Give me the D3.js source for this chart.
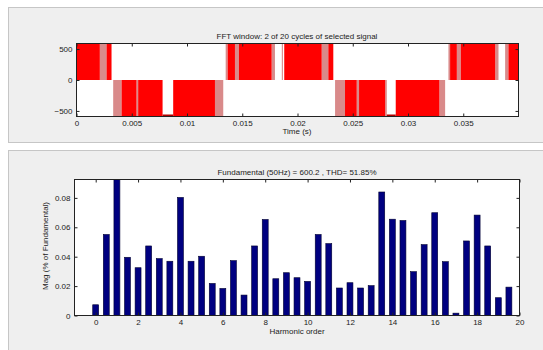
<!DOCTYPE html>
<html><head><meta charset="utf-8">
<script src="https://cdn.jsdelivr.net/npm/d3@7"></script>
<style>
body{margin:0;background:#fff;}
svg{display:block;font-family:"Liberation Sans",Arial,sans-serif;}
</style>
</head><body>
<svg id="fig" width="543" height="350"></svg>
<script>
// ---- Inverter output voltage, 2 cycles (time in s, level in V) ----
const dcLevel = 590;
// intervals with dense switching (drawn solid red)
const posDense = [[0,0.00211],[0.00272,0.00317],[0.01368,0.01434],[0.0147,0.01766],[0.0188,0.02219],[0.02279,0.02324],[0.03381,0.03442],[0.03478,0.03789],[0.03909,0.04]];
const negDense = [[0.00408,0.00543],[0.00558,0.00779],[0.00875,0.01253],[0.0243,0.02536],[0.02557,0.02793],[0.02889,0.03284]];
// intervals with sparse switching (drawn as lighter band)
const posSparse = [[0.00211,0.00272],[0.0135,0.01368],[0.01434,0.0147],[0.01766,0.01796],[0.01858,0.01868],[0.02219,0.02279],[0.03366,0.03381],[0.03442,0.03478],[0.03789,0.03819],[0.03879,0.03909]];
const negSparse = [[0.00332,0.00408],[0.00543,0.00558],[0.01253,0.01328],[0.0234,0.0243],[0.02536,0.02557],[0.02793,0.02808],[0.03284,0.03336]];
// intervals where the output is held at the negative rail
const negHold = [[0.00779,0.00875],[0.02808,0.02889]];
const timeTicks = [0,0.005,0.01,0.015,0.02,0.025,0.03,0.035];
const voltTicks = [-500,0,500];

// ---- Harmonic spectrum (orders 0..19.5 in steps of 0.5) ----
const harmonicOrder = d3.range(0, 20, 0.5);
const magnitude = [
  0.0073, 0.0551, 100, 0.0396, 0.0325, 0.0473, 0.0387, 0.0369,
  0.0803, 0.0369, 0.0403, 0.0218, 0.0184, 0.0373, 0.0139, 0.0473,
  0.0653, 0.0250, 0.0291, 0.0257, 0.0232, 0.0551, 0.0489, 0.0187,
  0.0223, 0.0187, 0.0203, 0.0840, 0.0655, 0.0646, 0.0298, 0.0482,
  0.0699, 0.0366, 0.0016, 0.0507, 0.0683, 0.0473, 0.0121, 0.0193
];
const orderTicks = [0,2,4,6,8,10,12,14,16,18,20];
const magTicks = [0,0.02,0.04,0.06,0.08];

const svg = d3.select("#fig");
const axisColor = "#222";

// figure panels
svg.append("rect").attr("x", 8.5).attr("y", 7.5).attr("width", 560).attr("height", 135)
  .attr("fill", "#efefef").attr("stroke", "#c6c6c6");
svg.append("rect").attr("x", 8.5).attr("y", 150.5).attr("width", 560).attr("height", 220)
  .attr("fill", "#efefef").attr("stroke", "#c6c6c6");

function boxAxes(g, x, y, xTicks, yTicks, xFmt, yFmt) {
  const [x0, x1] = x.range(), [y0, y1] = y.range();
  g.append("g").attr("transform", `translate(0,${y0})`)
    .call(d3.axisBottom(x).tickValues(xTicks).tickSize(-3).tickPadding(4).tickFormat(xFmt));
  g.append("g").attr("transform", `translate(0,${y1})`)
    .call(d3.axisTop(x).tickValues(xTicks).tickSize(-3).tickFormat(""));
  g.append("g").attr("transform", `translate(${x0},0)`)
    .call(d3.axisLeft(y).tickValues(yTicks).tickSize(-3).tickPadding(4).tickFormat(yFmt));
  g.append("g").attr("transform", `translate(${x1},0)`)
    .call(d3.axisRight(y).tickValues(yTicks).tickSize(-3).tickFormat(""));
  g.selectAll(".domain").remove();
  g.selectAll(".tick line").attr("stroke", axisColor);
  g.selectAll(".tick text").attr("fill", axisColor).attr("font-size", 8)
    .attr("font-family", "'Liberation Sans',Arial,sans-serif");
  g.append("rect").attr("x", x0).attr("y", y1).attr("width", x1 - x0).attr("height", y0 - y1)
    .attr("fill", "none").attr("stroke", axisColor).attr("stroke-width", 1);
}

// ---------------- top: time-domain signal ----------------
const xT = d3.scaleLinear().domain([0, 0.04]).range([76.5, 518.5]);
const yT = d3.scaleLinear().domain([-dcLevel, dcLevel]).range([116.5, 43.5]);
const gT = svg.append("g");
gT.append("rect").attr("x", 76.5).attr("y", 43.5).attr("width", 442).attr("height", 73).attr("fill", "#fff");

function blocks(data, sign, fill) {
  gT.append("g").selectAll("rect").data(data).join("rect")
    .attr("x", d => xT(d[0])).attr("width", d => xT(d[1]) - xT(d[0]))
    .attr("y", sign > 0 ? yT(dcLevel) : yT(0))
    .attr("height", sign > 0 ? yT(0) - yT(dcLevel) : yT(-dcLevel) - yT(0))
    .attr("fill", fill);
}
blocks(posSparse, 1, "#d98a8a");
blocks(negSparse, -1, "#d98a8a");
blocks(posDense, 1, "#ff0000");
blocks(negDense, -1, "#ff0000");
gT.append("g").selectAll("line").data(negHold).join("line")
  .attr("x1", d => xT(d[0])).attr("x2", d => xT(d[1]))
  .attr("y1", yT(-dcLevel) - 1).attr("y2", yT(-dcLevel) - 1)
  .attr("stroke", "#b00000").attr("stroke-width", 2);

boxAxes(gT, xT, yT, timeTicks, voltTicks, d3.format("~g"), d3.format("d"));
svg.append("text").attr("x", 297).attr("y", 38.5).attr("text-anchor", "middle")
  .attr("font-size", 8).attr("fill", axisColor).text("FFT window: 2 of 20 cycles of selected signal");
svg.append("text").attr("x", 297).attr("y", 134).attr("text-anchor", "middle")
  .attr("font-size", 8).attr("fill", axisColor).text("Time (s)");

// ---------------- bottom: harmonic spectrum ----------------
const xB = d3.scaleLinear().domain([-1, 20]).range([74.5, 519.5]);
const yB = d3.scaleLinear().domain([0, 0.0925]).range([315.5, 179.5]);
const gB = svg.append("g");
gB.append("rect").attr("x", 74.5).attr("y", 179.5).attr("width", 445).attr("height", 136).attr("fill", "#fff");
svg.append("clipPath").attr("id", "plotClip").append("rect")
  .attr("x", 74.5).attr("y", 179.5).attr("width", 445).attr("height", 136);
const barW = xB(0.28) - xB(0);
gB.append("g").attr("clip-path", "url(#plotClip)").selectAll("rect")
  .data(harmonicOrder.map((h, i) => ({h, m: magnitude[i]}))).join("rect")
  .attr("x", d => xB(d.h) - barW / 2).attr("width", barW)
  .attr("y", d => yB(d.m)).attr("height", d => yB(0) - yB(d.m))
  .attr("fill", "#000080").attr("stroke", "#000030").attr("stroke-width", 0.6);

boxAxes(gB, xB, yB, orderTicks, magTicks, d3.format("d"), d3.format("~g"));
svg.append("text").attr("x", 297).attr("y", 175).attr("text-anchor", "middle")
  .attr("font-size", 8).attr("fill", axisColor).text("Fundamental (50Hz) = 600.2 , THD= 51.85%");
svg.append("text").attr("x", 297).attr("y", 334).attr("text-anchor", "middle")
  .attr("font-size", 8).attr("fill", axisColor).text("Harmonic order");
svg.append("text").attr("transform", "translate(48,246) rotate(-90)").attr("text-anchor", "middle")
  .attr("font-size", 8).attr("fill", axisColor).text("Mag (% of Fundamental)");
</script>
</body></html>
